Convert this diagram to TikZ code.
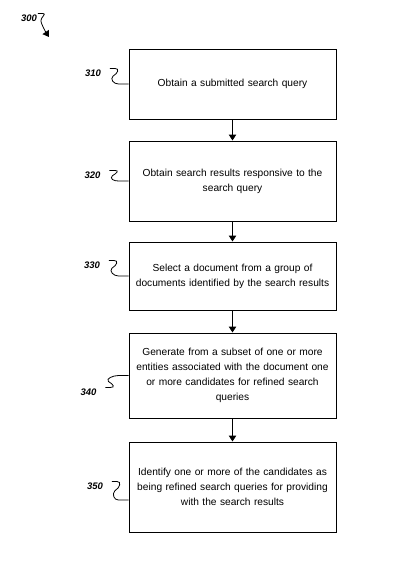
\documentclass[tikz,border=0pt]{standalone}
\usepackage{fontspec}
\setmainfont{Liberation Sans}
\usetikzlibrary{
    arrows.meta,
    calc,
    positioning
}

\begin{document}
\begin{tikzpicture}[x=1pt, y=-1pt,
    >={Triangle[length=6pt,width=7.5pt]},
    stepbox/.style={draw, line width=1pt, minimum width=207pt, text width=205pt,
        align=center, inner sep=1pt, font=\fontsize{10.2}{15}\selectfont},
    lbl/.style={font=\fontsize{9.5}{11}\selectfont\bfseries\itshape, inner sep=1pt, outer xsep=8pt},
    squigdn/.style={line width=0.8pt, to path={-- ++(5,0)
        .. controls +(5,0) and +(5,-3) .. ($(\tikztostart)!.5!(\tikztostart |- \tikztotarget)+(3,0)$)
        .. controls +(-3,3) and +(-5,0) .. ([xshift=-10pt]\tikztotarget) -- (\tikztotarget)}},
    squigup/.style={line width=0.8pt, to path={-- ++(5,0)
        .. controls +(5,0) and +(5,3) .. ($(\tikztostart)!.5!(\tikztostart |- \tikztotarget)+(3,0)$)
        .. controls +(-3,-3) and +(-5,0) .. ([xshift=-10pt]\tikztotarget) -- (\tikztotarget)}}]
    \useasboundingbox (0,0) rectangle (417,573);

    \node[lbl, outer xsep=0pt] (l300) at (29,18) {300};
    \coordinate (c300) at (49,37);

    \node[stepbox, minimum height=70pt] (s310) at (232.5,84) {Obtain a submitted search query};
    \node[stepbox, minimum height=80pt] (s320) at (232.5,181) {Obtain search results responsive to the\\search query};
    \node[stepbox, minimum height=68pt] (s330) at (232.5,276) {Select a document from a group of\\documents identified by the search results};
    \node[stepbox, minimum height=85pt] (s340) at (232.5,375.5) {Generate from a subset of one or more\\entities associated with the document one\\or more candidates for refined search\\queries};
    \node[stepbox, minimum height=90pt] (s350) at (232.5,487) {Identify one or more of the candidates as\\being refined search queries for providing\\with the search results};

    \node[lbl] (l310) at (93,73) {310};
    \node[lbl] (l320) at (92.5,175) {320};
    \node[lbl] (l330) at (92,265) {330};
    \node[lbl] (l340) at (88.5,392) {340};
    \node[lbl] (l350) at (95,486) {350};

    \draw[line width=1pt]
    (s310) edge [->] (s320)
    (s320) edge [->] (s330)
    (s330) edge [->] (s340)
    (s340) edge [->] (s350);

    \draw
    (l310.north east) edge [squigdn] (s310.west)
    (l320.north east) edge [squigdn] (s320.west)
    (l330.north east) edge [squigdn] (s330.west)
    (l340.north east) edge [squigup] (s340.west)
    (l350.north east) edge [squigdn] ([yshift=-13pt]s350.west);

    \draw[->, line width=0.8pt] (l300.north east) -- ++(5,0)
        .. controls +(4,0) and +(0,-3) .. ++(-2,7)
        .. controls +(0,4) and +(-2,-3) .. (c300);
\end{tikzpicture}
\end{document}
